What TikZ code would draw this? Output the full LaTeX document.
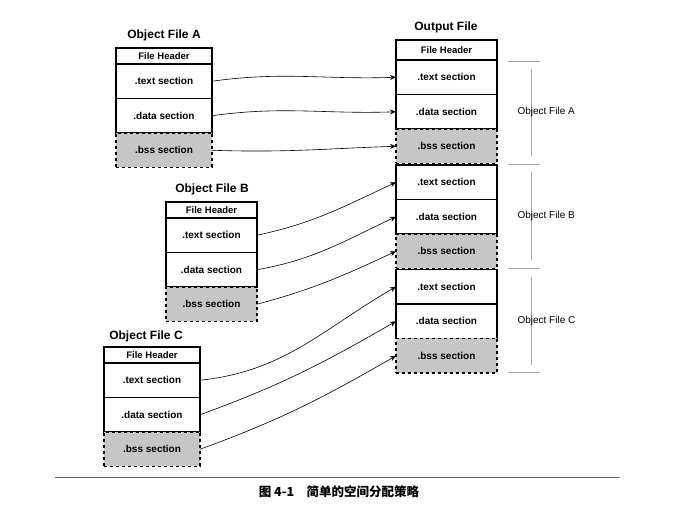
\documentclass[tikz,border=0pt]{standalone}
\usepackage{fontspec}
\setmainfont{Liberation Sans}
\newfontfamily\cjk{Noto Sans CJK SC}
\usetikzlibrary{positioning, arrows.meta}
\tikzset{
	ftitle/.style={font=\bfseries\fontsize{12}{14}\selectfont},
	hdr/.style={draw, line width=1.1pt, outer sep=0, minimum width=96, minimum height=16, inner sep=0, font=\bfseries\fontsize{9.5}{11}\selectfont},
	sec/.style={draw, line width=1.1pt, outer sep=0, minimum width=96, minimum height=34.5, inner sep=0, font=\bfseries\fontsize{10}{12}\selectfont},
	bss/.style={sec, dashed, fill=gray!45},
	link/.style={-{Stealth[length=6pt, width=5pt]}, semithick},
	part/.style={gray!70, thin},
	plabel/.style={font=\fontsize{10}{12}\selectfont, anchor=west},
}

\begin{document}
\begin{tikzpicture}[x=1pt, y=-1pt]
	\useasboundingbox (0,0) rectangle (683,518);

	% object file A
	\node [ftitle] (titleA) at (164,35) {Object File A};
	\node [hdr, anchor=north west] (hdrA) at (116,48) {File Header};
	\node [sec, below=0pt of hdrA] (txtA) {.text section};
	\node [sec, below=0pt of txtA] (datA) {.data section};
	\node [bss, below=0pt of datA] (bssA) {.bss section};

	% object file B
	\node [ftitle] (titleB) at (212,189) {Object File B};
	\node [hdr, minimum width=91, anchor=north west] (hdrB) at (166,202) {File Header};
	\node [sec, minimum width=91, below=0pt of hdrB] (txtB) {.text section};
	\node [sec, minimum width=91, below=0pt of txtB] (datB) {.data section};
	\node [bss, minimum width=91, below=0pt of datB] (bssB) {.bss section};

	% object file C
	\node [ftitle] (titleC) at (146,336) {Object File C};
	\node [hdr, anchor=north west] (hdrC) at (104,347) {File Header};
	\node [sec, below=0pt of hdrC] (txtC) {.text section};
	\node [sec, below=0pt of txtC] (datC) {.data section};
	\node [bss, below=0pt of datC] (bssC) {.bss section};

	% output file
	\node [ftitle] (titleO) at (446,27) {Output File};
	\node [hdr, minimum width=101, minimum height=20, line width=1.8pt, anchor=north west] (hdrO) at (396,40) {File Header};
	\node [sec, minimum width=101, below=0pt of hdrO] (oTxtA) {.text section};
	\node [sec, minimum width=101, below=0pt of oTxtA] (oDatA) {.data section};
	\node [bss, minimum width=101, below=0pt of oDatA] (oBssA) {.bss section};
	\node [sec, minimum width=101, below=1.5pt of oBssA] (oTxtB) {.text section};
	\node [sec, minimum width=101, below=0pt of oTxtB] (oDatB) {.data section};
	\node [bss, minimum width=101, below=0pt of oDatB] (oBssB) {.bss section};
	\node [sec, minimum width=101, below=1pt of oBssB] (oTxtC) {.text section};
	\node [sec, minimum width=101, below=0pt of oTxtC] (oDatC) {.data section};
	\node [bss, minimum width=101, below=0pt of oDatC] (oBssC) {.bss section};

	% links
	\draw [link] (txtA.east) to [out=8, in=182] (oTxtA.west);
	\draw [link] (datA.east) to [out=8, in=182] (oDatA.west);
	\draw [link] (bssA.east) to [out=-2, in=182] (oBssA.west);
	\draw [link] (txtB.east) to [out=12, in=205] (oTxtB.west);
	\draw [link] (datB.east) to [out=10, in=205] (oDatB.west);
	\draw [link] (bssB.east) to [out=15, in=205] (oBssB.west);
	\draw [link] (txtC.east) to [out=6, in=210] (oTxtC.west);
	\draw [link] (datC.east) to [out=20, in=210] (oDatC.west);
	\draw [link] (bssC.east) to [out=20, in=210] (oBssC.west);

	% parts of the output file
	\foreach \y in {61, 164, 268, 372}
		\draw [part] (508,\y) -- (540,\y);
	\draw [part] (531,69) -- (531,156);
	\draw [part] (531,172) -- (531,260);
	\draw [part] (531,277) -- (531,365);
	\node [plabel] (partA) at (514,112) {Object File A};
	\node [plabel] (partB) at (514,216) {Object File B};
	\node [plabel] (partC) at (514,321) {Object File C};

	% caption
	\draw [thick, gray!80!black] (55,477) -- (620,477);
	\node [font=\cjk\bfseries\fontsize{12.5}{14}\selectfont] (caption) at (339,492) {图 4-1\quad 简单的空间分配策略};
\end{tikzpicture}
\end{document}
